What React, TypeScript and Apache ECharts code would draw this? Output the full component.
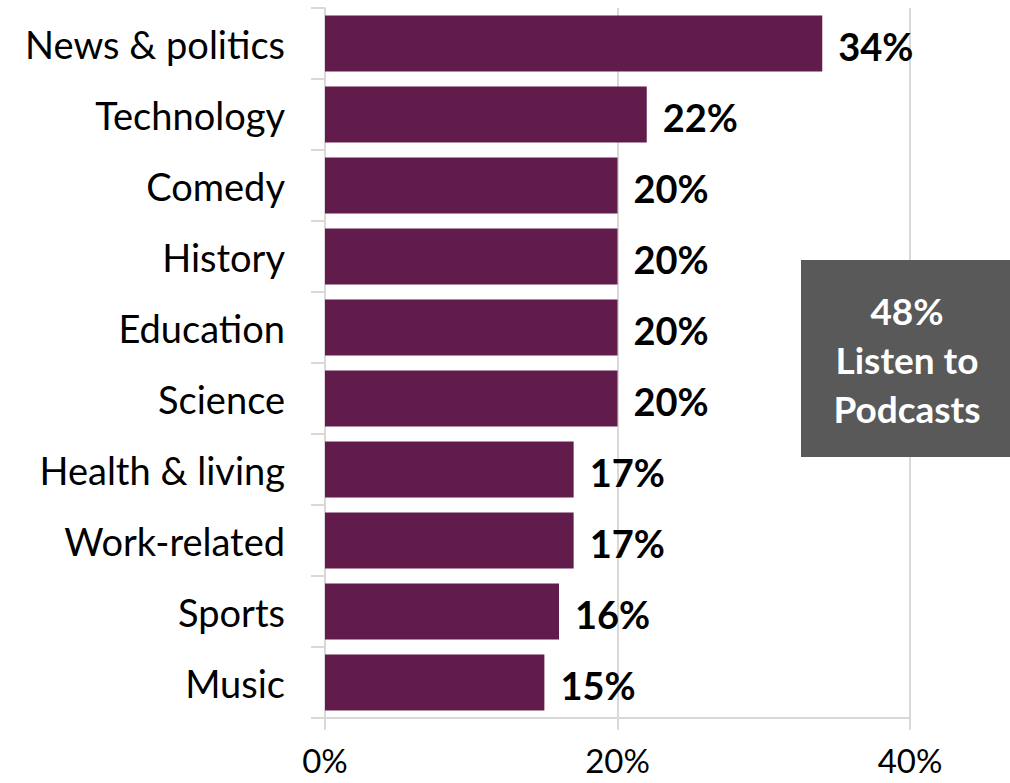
import React, { useEffect, useRef } from "react";
import * as echarts from "echarts";

const categories = [
  "News & politics",
  "Technology",
  "Comedy",
  "History",
  "Education",
  "Science",
  "Health & living",
  "Work-related",
  "Sports",
  "Music",
];
const values = [34, 22, 20, 20, 20, 20, 17, 17, 16, 15];
const xTicks = [0, 20, 40];
const boxLines = ["48%", "Listen to", "Podcasts"];

const FONT = "Lato, 'Open Sans', sans-serif";

export default function App() {
  const ref = useRef<HTMLDivElement>(null);
  useEffect(() => {
    if (!ref.current) return;
    const chart = echarts.init(ref.current, null, { renderer: "svg" });
    chart.setOption({
      animation: false,
      grid: { left: 325, right: 100, top: 8, bottom: 65, containLabel: false },
      xAxis: {
        type: "value",
        min: xTicks[0],
        max: xTicks[xTicks.length - 1],
        interval: 20,
        axisLine: { show: true, lineStyle: { color: "#d9d9d9", width: 2 } },
        axisTick: { show: true, length: 12, lineStyle: { color: "#d9d9d9", width: 2 } },
        splitLine: { show: true, lineStyle: { color: "#d9d9d9", width: 2 } },
        axisLabel: {
          formatter: "{value}%",
          color: "#000",
          fontFamily: FONT,
          fontSize: 33,
          margin: 25,
        },
      },
      yAxis: {
        type: "category",
        data: categories,
        inverse: true,
        axisLine: { show: true, lineStyle: { color: "#d9d9d9", width: 2 } },
        axisTick: { show: true, length: 14, lineStyle: { color: "#d9d9d9", width: 2 } },
        axisLabel: {
          color: "#000",
          fontFamily: FONT,
          fontSize: 38,
          margin: 40,
        },
      },
      series: [
        {
          type: "bar",
          data: values,
          barCategoryGap: "21%",
          itemStyle: { color: "#621C4B" },
          label: {
            show: true,
            position: "right",
            distance: 16,
            formatter: "{c}%",
            color: "#000",
            fontFamily: FONT,
            fontWeight: "bold",
            fontSize: 38,
            offset: [0, 2],
          },
        },
      ],
      graphic: [
        {
          type: "rect",
          x: 801,
          y: 260,
          shape: { width: 209, height: 197 },
          style: { fill: "#595959" },
          z: 10,
        },
        {
          type: "text",
          x: 907,
          y: 359,
          z: 11,
          style: {
            text: boxLines.join("\n"),
            fill: "#fff",
            font: `bold 37px ${FONT}`,
            lineHeight: 49,
            align: "center",
            verticalAlign: "middle",
          },
        },
      ],
    });
    return () => chart.dispose();
  }, []);
  return <div ref={ref} style={{ width: 1010, height: 783, position: "absolute", left: 0, top: 0 }} />;
}
